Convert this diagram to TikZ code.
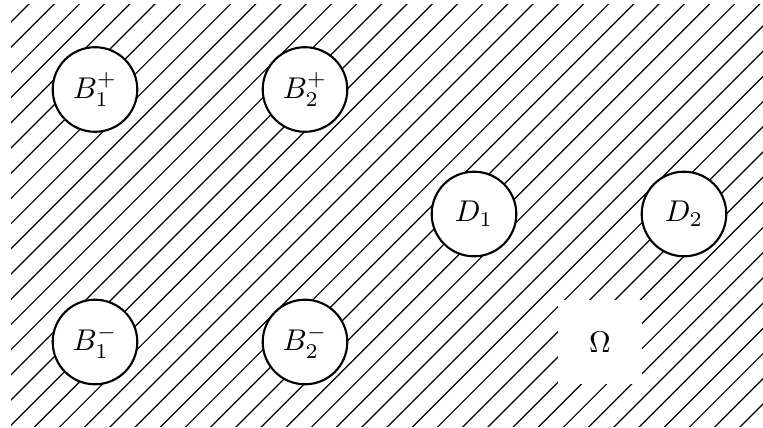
\documentclass[tikz,border=0pt]{standalone}
\begin{document}
\begin{tikzpicture}[x=0.33333pt,y=-0.33333pt,
  hatch/.style={line width=0.4pt},
  hole/.style={circle,draw,fill=white,line width=0.7pt,minimum size=28.2pt,inner sep=0pt},
  gap/.style={rectangle,fill=white,minimum size=28.2pt,inner sep=0pt}]
\useasboundingbox (0,0) rectangle (763,428);
\begin{scope}
  \clip (11,5) rectangle (763,426);
  \foreach \k in {0,...,46}
    \draw[hatch] ({33+25.2*\k},0) -- ++(-500,500);
\end{scope}
\node[hole] (b1p) at (95,89.5) {$B_1^+$};
\node[hole] (b2p) at (305,89.5) {$B_2^+$};
\node[hole] (d1) at (474,214) {$D_1$};
\node[hole] (d2) at (684,214) {$D_2$};
\node[hole] (b1m) at (95,342) {$B_1^-$};
\node[hole] (b2m) at (305,342) {$B_2^-$};
\node[gap] (om) at (600,342) {$\Omega$};
\end{tikzpicture}
\end{document}
